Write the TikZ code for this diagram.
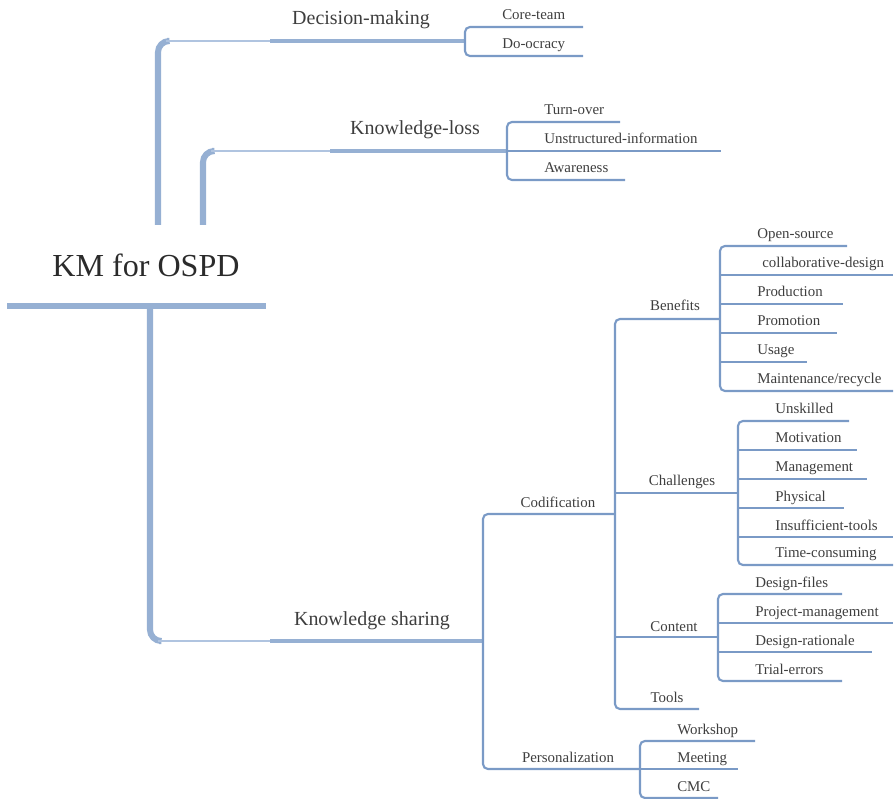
\documentclass[tikz,border=0pt]{standalone}
\usepackage{fontspec}
\setmainfont{Liberation Serif}
\usepackage{tikz}
\usetikzlibrary{positioning,calc}
\usepackage{xcolor}
\definecolor{kmblue}{RGB}{122,154,198}
\definecolor{kmlightblue}{RGB}{150,176,211}
\definecolor{kmpale}{RGB}{176,196,224}
\definecolor{kmtext}{RGB}{62,62,62}
\tikzstyle{trunk} = [line width=4.3pt, color=kmlightblue]
\tikzstyle{branch} = [line width=3.3pt, color=kmlightblue]
\tikzstyle{stem} = [line width=1.5pt, color=kmpale]
\tikzstyle{twig} = [line width=1.5pt, color=kmblue, rounded corners=3.5pt]
\tikzstyle{rootlabel} = [font=\fontsize{22.8}{26}\selectfont, text=kmtext!70!black, anchor=base, inner sep=0pt]
\tikzstyle{mainlabel} = [font=\fontsize{14.2}{17}\selectfont, text=kmtext, anchor=base, inner sep=0pt]
\tikzstyle{leaf} = [font=\fontsize{10.6}{13}\selectfont, text=kmtext, anchor=base west, inner sep=0pt]
\tikzstyle{midlabel} = [font=\fontsize{10.6}{13}\selectfont, text=kmtext, anchor=base, inner sep=0pt]

\begin{document}
\begin{tikzpicture}[x=0.025cm, y=-0.025cm]
\useasboundingbox (0,0) rectangle (894,799);

% Root
\node[rootlabel] (km) at (146,277) {KM for OSPD};
\coordinate (kml) at (7,306);
\coordinate (kmr) at (266,306);
\draw[trunk] (kml) -- (kmr);

% Decision-making
\coordinate (dmfoot) at (158,225);
\coordinate (dmcorner) at (158,41);
\coordinate (dmstart) at (270,41);
\coordinate (dmx) at (465,41);
\draw[trunk, rounded corners=8] (dmfoot) -- (dmcorner) -- ++(9,0);
\draw[stem] ($(dmcorner)+(8,0)$) -- (dmstart);
\draw[branch] (dmstart) -- (dmx);
\node[mainlabel] (dm) at (361,25) {Decision-making};
\coordinate (coreteam) at (583,27);
\coordinate (doocracy) at (583,56);
\draw[twig] (coreteam) -| (dmx |- doocracy) -- (doocracy);
\node[leaf] (ct) at ($(dmx |- coreteam)+(37,-7)$) {Core-team};
\node[leaf] (do) at ($(dmx |- doocracy)+(37,-7)$) {Do-ocracy};

% Knowledge-loss
\coordinate (klfoot) at (203,225);
\coordinate (klcorner) at (203,151);
\coordinate (klstart) at (330,151);
\coordinate (klx) at (507,151);
\draw[trunk, rounded corners=8] (klfoot) -- (klcorner) -- ++(9,0);
\draw[stem] ($(klcorner)+(8,0)$) -- (klstart);
\draw[branch] (klstart) -- (klx);
\node[mainlabel] (kl) at (415,135) {Knowledge-loss};
\coordinate (turnover) at (620,122);
\coordinate (unstruct) at (721,151);
\coordinate (awareness) at (625,180);
\draw[twig] (turnover) -| (klx |- awareness) -- (awareness);
\draw[twig] (klx) -- (unstruct);
\node[leaf] (to) at ($(klx |- turnover)+(37,-7)$) {Turn-over};
\node[leaf] (ui) at ($(klx |- unstruct)+(37,-7)$) {Unstructured-information};
\node[leaf] (aw) at ($(klx |- awareness)+(37,-7)$) {Awareness};

% Knowledge sharing
\coordinate (kstop) at (150,306);
\coordinate (kscorner) at (150,641);
\coordinate (ksstart) at (270,641);
\coordinate (ksx) at (483,641);
\draw[trunk, rounded corners=8] (kstop) -- (kscorner) -- ++(9,0);
\draw[stem] ($(kscorner)+(8,0)$) -- (ksstart);
\draw[branch] (ksstart) -- (ksx);
\node[mainlabel] (ks) at (372,625) {Knowledge sharing};

% Codification / Personalization
\coordinate (codx) at (615,514);
\coordinate (persx) at (640,769);
\draw[twig] (codx) -| (ksx |- persx) -- (persx);
\node[midlabel] (cod) at (558,507) {Codification};
\node[midlabel] (pers) at (568,762) {Personalization};

% Codification children
\coordinate (benx) at (720,319);
\coordinate (chax) at (738,493);
\coordinate (conx) at (718,637);
\coordinate (tools) at (699,709);
\draw[twig] (benx) -| (codx |- tools) -- (tools);
\draw[twig] (codx |- chax) -- (chax);
\draw[twig] (codx |- conx) -- (conx);
\node[midlabel] (ben) at (675,311) {Benefits};
\node[midlabel] (cha) at (682,486) {Challenges};
\node[midlabel] (con) at (674,631) {Content};
\node[midlabel] (tl) at (667,702) {Tools};

% Benefits
\coordinate (opensrc) at (847,246);
\coordinate (collab) at (893,275);
\coordinate (product) at (843,304);
\coordinate (promo) at (837,333);
\coordinate (usage) at (807,362);
\coordinate (maint) at (893,391);
\draw[twig] (opensrc) -| (benx |- maint) -- (maint);
\draw[twig] (benx |- collab) -- (collab);
\draw[twig] (benx |- product) -- (product);
\draw[twig] (benx |- promo) -- (promo);
\draw[twig] (benx |- usage) -- (usage);
\node[leaf] (os) at ($(benx |- opensrc)+(37,-7)$) {Open-source};
\node[leaf] (cd) at ($(benx |- collab)+(42,-7)$) {collaborative-design};
\node[leaf] (pr) at ($(benx |- product)+(37,-7)$) {Production};
\node[leaf] (pm) at ($(benx |- promo)+(37,-7)$) {Promotion};
\node[leaf] (us) at ($(benx |- usage)+(37,-7)$) {Usage};
\node[leaf] (mr) at ($(benx |- maint)+(37,-7)$) {Maintenance/recycle};

% Challenges
\coordinate (unskill) at (849,421);
\coordinate (motiv) at (857,450);
\coordinate (manage) at (867,479);
\coordinate (phys) at (844,508);
\coordinate (insuff) at (893,537);
\coordinate (timec) at (893,565);
\draw[twig] (unskill) -| (chax |- timec) -- (timec);
\draw[twig] (chax |- motiv) -- (motiv);
\draw[twig] (chax |- manage) -- (manage);
\draw[twig] (chax |- phys) -- (phys);
\draw[twig] (chax |- insuff) -- (insuff);
\node[leaf] (uk) at ($(chax |- unskill)+(37,-7)$) {Unskilled};
\node[leaf] (mo) at ($(chax |- motiv)+(37,-7)$) {Motivation};
\node[leaf] (mg) at ($(chax |- manage)+(37,-7)$) {Management};
\node[leaf] (ph) at ($(chax |- phys)+(37,-7)$) {Physical};
\node[leaf] (it) at ($(chax |- insuff)+(37,-7)$) {Insufficient-tools};
\node[leaf] (tc) at ($(chax |- timec)+(37,-7)$) {Time-consuming};

% Content
\coordinate (dfiles) at (842,594);
\coordinate (projm) at (893,623);
\coordinate (drat) at (872,652);
\coordinate (trial) at (842,681);
\draw[twig] (dfiles) -| (conx |- trial) -- (trial);
\draw[twig] (conx |- projm) -- (projm);
\draw[twig] (conx |- drat) -- (drat);
\node[leaf] (df) at ($(conx |- dfiles)+(37,-7)$) {Design-files};
\node[leaf] (pj) at ($(conx |- projm)+(37,-7)$) {Project-management};
\node[leaf] (dr) at ($(conx |- drat)+(37,-7)$) {Design-rationale};
\node[leaf] (te) at ($(conx |- trial)+(37,-7)$) {Trial-errors};

% Personalization
\coordinate (worksh) at (755,741);
\coordinate (meet) at (738,769);
\coordinate (cmc) at (718,798);
\draw[twig] (worksh) -| (persx |- cmc) -- (cmc);
\draw[twig] (persx) -- (meet);
\node[leaf] (ws) at ($(persx |- worksh)+(37,-7)$) {Workshop};
\node[leaf] (mt) at ($(persx |- meet)+(37,-7)$) {Meeting};
\node[leaf] (cm) at ($(persx |- cmc)+(37,-7)$) {CMC};
\end{tikzpicture}
\end{document}
